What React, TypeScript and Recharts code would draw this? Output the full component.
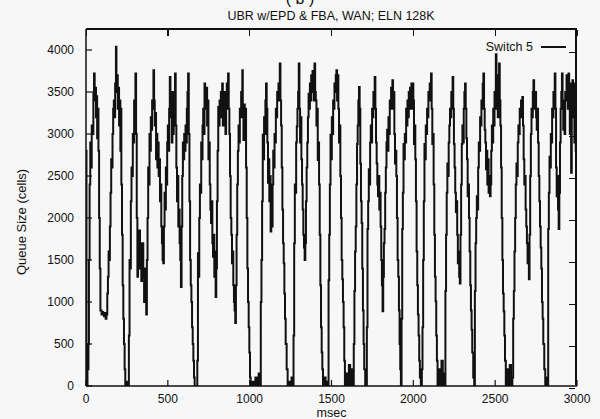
import React from 'react';
import { LineChart, Line, XAxis, YAxis, Legend } from 'recharts';

// Queue size trace of Switch 5: [msec, cells]
const seg01: [number, number][] = [[0,2800],[3,300],[6,0],[9,400],[12,200],[15,500],[18,1500],[22,2400],[26,2900],[30,2600],[35,3100],[40,3000],[45,3500],[49,3720],[53,3400],[57,3550],[61,3200],[65,3450],[68,2950],[72,3300],[76,2800],[80,2000],[84,1400],[88,900],[95,850],[100,880],[105,850],[110,830],[115,870],[120,800],[125,850],[130,1100],[134,1300],[138,1600],[142,1500],[146,1900],[150,2300],[154,2700],[158,2600],[162,3000],[166,3300],[170,3400],[174,3200],[178,3600],[183,4040],[186,3500],[190,3700],[194,3300],[198,3550],[202,3100],[206,3400],[210,2800],[213,3300],[216,2400],[220,1800],[224,1200],[228,800],[232,500],[236,200],[240,0],[245,50],[250,0]];
const seg02: [number, number][] = [[254,0],[258,0],[262,600],[266,1500],[270,1400],[274,2200],[278,2600],[282,2500],[286,3000],[290,2900],[294,3400],[298,3300],[302,3720],[306,3000],[310,2000],[314,1300],[318,1600],[322,1500],[326,1850],[330,1400],[334,1700],[338,1250],[342,1500],[346,1700],[350,1300],[355,1000],[360,1400],[364,1100],[368,850],[372,1500],[376,2000],[380,2600],[384,2400],[388,3000],[392,2800],[396,3200],[400,3050],[404,3400],[408,3300],[412,3760],[416,3400],[420,3100],[424,3250],[428,2700],[432,3000],[436,2600],[440,2900],[444,2500],[448,2700],[452,2200],[456,2400],[460,1900],[464,1700],[468,1500]];
const seg03: [number, number][] = [[472,1460],[476,1900],[480,2300],[484,2100],[488,2600],[492,2400],[496,2900],[500,3100],[504,2800],[508,3300],[512,3680],[516,3200],[520,3500],[524,2900],[528,3300],[532,3000],[536,3500],[540,3400],[544,3720],[548,3100],[552,2600],[556,2200],[560,2500],[564,1900],[568,2100],[572,1700],[576,1500],[580,1180],[584,1900],[588,2500],[592,2900],[596,2700],[600,3000],[604,2800],[608,3100],[612,2900],[616,3300],[620,3500],[624,3720],[628,3000],[632,2200],[636,1500],[640,1200],[644,1000],[648,700],[652,500],[656,300],[660,100],[664,0],[670,0],[676,0]];
const seg04: [number, number][] = [[680,300],[684,1580],[688,1300],[692,2000],[696,2400],[700,2300],[704,2900],[708,2700],[712,3100],[716,3300],[720,3000],[724,3600],[728,3500],[732,3300],[736,3550],[740,3100],[744,3400],[748,2700],[752,2900],[756,2400],[760,2100],[764,1940],[768,2200],[772,1700],[776,1540],[780,1800],[784,1300],[788,1600],[792,1060],[796,1400],[800,2200],[804,2800],[808,3320],[812,3100],[816,3400],[820,3200],[824,3500],[828,3300],[832,3600],[836,3100],[840,3400],[844,3200],[848,3500],[852,3000],[856,3400],[860,3600],[864,3300],[868,3720],[872,3300],[876,3000],[880,2500],[884,2000],[888,1800],[892,1460],[896,1600],[900,1200],[904,1000],[908,900],[912,750],[916,1200]];
const seg05: [number, number][] = [[920,1800],[924,2400],[928,2800],[932,3100],[936,2900],[940,3300],[944,3200],[948,3500],[952,3400],[955,3760],[958,3200],[962,2930],[966,3350],[970,3100],[974,3300],[978,2600],[982,2000],[986,1400],[990,1000],[994,700],[998,400],[1002,100],[1006,0],[1015,50],[1025,0],[1035,100],[1045,0],[1055,150],[1062,0]];
const seg06: [number, number][] = [[1068,1000],[1072,1500],[1076,2200],[1080,2990],[1084,2700],[1088,3200],[1092,3000],[1096,3400],[1100,3600],[1104,3300],[1108,2900],[1112,2420],[1116,2700],[1120,2200],[1124,2500],[1128,1840],[1132,2100],[1136,1900],[1140,2400],[1144,2800],[1148,2600],[1152,3000],[1156,2900],[1160,3300],[1164,3200],[1168,3500],[1172,3400],[1176,3600],[1180,3500],[1184,3840],[1188,3400],[1192,3100],[1196,2600],[1200,2100],[1204,1700],[1208,1460],[1212,1100],[1216,800],[1220,500],[1226,200],[1232,0],[1240,50],[1248,0],[1256,100],[1264,0]];
const seg07: [number, number][] = [[1268,600],[1272,1700],[1276,2400],[1280,2300],[1284,2900],[1288,3090],[1292,3300],[1296,3500],[1300,3840],[1304,3300],[1308,2900],[1312,3200],[1316,2700],[1320,2400],[1324,2100],[1328,1800],[1332,1650],[1336,1500],[1340,1700],[1344,2200],[1348,2600],[1352,2900],[1356,3200],[1360,3480],[1364,3300],[1368,3600],[1372,3400],[1376,3700],[1380,3500],[1384,3750],[1388,3600],[1392,3400],[1396,3840],[1400,3500],[1404,3400],[1408,3100],[1412,3300],[1416,2690],[1420,2900],[1424,2400],[1428,1800],[1432,1200],[1436,700],[1440,400],[1444,200],[1448,0],[1456,100],[1464,0],[1472,50],[1478,0]];
const seg08: [number, number][] = [[1482,1260],[1486,1800],[1490,2400],[1494,2990],[1498,2700],[1502,3200],[1506,3000],[1510,3400],[1514,3300],[1518,3600],[1522,3500],[1526,3700],[1530,3760],[1534,3400],[1538,3700],[1542,3300],[1546,2900],[1550,3100],[1554,2500],[1558,2000],[1562,1500],[1566,1270],[1570,1000],[1574,700],[1578,300],[1582,0],[1590,150],[1598,0],[1606,250],[1614,0],[1622,200],[1630,0]];
const seg09: [number, number][] = [[1636,500],[1640,1130],[1644,1600],[1648,1900],[1652,2400],[1656,2880],[1660,3100],[1664,3400],[1668,3560],[1672,3300],[1676,2650],[1680,2200],[1684,1940],[1688,1400],[1692,900],[1696,500],[1700,200],[1706,0],[1712,0]];
const seg10: [number, number][] = [[1716,700],[1720,1870],[1724,2200],[1728,2580],[1732,2400],[1736,2900],[1740,3100],[1744,2900],[1748,3300],[1752,3200],[1756,3500],[1760,3400],[1764,3680],[1768,3300],[1772,2900],[1776,2650],[1780,2400],[1784,2260],[1788,2500],[1792,2100],[1796,2300],[1800,1900],[1804,1500],[1808,1200],[1812,890],[1816,1300]];
const seg11: [number, number][] = [[1820,1700],[1824,1870],[1828,2300],[1832,2600],[1836,2900],[1840,3050],[1844,2800],[1848,3200],[1852,3000],[1856,3400],[1860,3300],[1864,3550],[1868,3400],[1872,3640],[1876,3300],[1880,3500],[1884,3000],[1888,2650],[1892,2800],[1896,2500],[1900,2000],[1904,1500],[1908,1300],[1912,900],[1916,500],[1920,200],[1924,0]];
const seg12: [number, number][] = [[1928,800],[1932,1870],[1936,2300],[1940,2880],[1944,2700],[1948,3000],[1952,2900],[1956,3300],[1960,3100],[1964,3400],[1968,3200],[1972,3500],[1976,3300],[1980,3550],[1984,3400],[1988,3600],[1992,3300],[1996,3600],[2000,3400],[2004,2880],[2008,3100],[2012,2700],[2016,2200],[2020,1600],[2024,1200],[2028,850],[2032,600],[2036,300],[2040,100],[2046,0]];
const seg13: [number, number][] = [[2052,200],[2056,700],[2060,1500],[2064,2200],[2068,2880],[2072,2700],[2076,3100],[2080,3000],[2084,3300],[2088,3200],[2092,3500],[2096,3400],[2100,3600],[2104,3500],[2108,3720],[2112,3300],[2116,2880],[2120,3000],[2124,2400],[2128,1800],[2132,1300],[2136,1010],[2140,600],[2144,300],[2148,0],[2156,200],[2164,0],[2172,300],[2180,0],[2188,150],[2194,0]];
const seg14: [number, number][] = [[2196,1130],[2200,1800],[2204,2300],[2208,2650],[2212,2500],[2216,2900],[2220,3100],[2224,3300],[2228,3200],[2232,3500],[2236,3400],[2240,3680],[2244,3300],[2248,2880],[2252,2600],[2256,2300],[2260,2070],[2264,2200],[2268,1800],[2272,1460],[2276,1600],[2280,1300],[2284,1220],[2288,1800]];
const seg15: [number, number][] = [[2292,2400],[2296,2880],[2300,3100],[2304,2900],[2308,3300],[2312,3500],[2316,3600],[2320,3300],[2324,2950],[2328,2700],[2332,2260],[2336,2400],[2340,2000],[2344,1600],[2348,1200],[2352,900],[2356,670],[2360,400],[2366,100],[2372,0]];
const seg16: [number, number][] = [[2376,1130],[2380,1700],[2384,2000],[2388,2260],[2392,2100],[2396,2600],[2400,2900],[2404,2800],[2408,3200],[2412,3100],[2416,3400],[2420,3300],[2424,3600],[2428,3720],[2432,3300],[2436,3050],[2440,2900],[2444,2580],[2448,2800],[2452,2400],[2456,2700],[2460,2300],[2464,2500],[2468,2260],[2472,2400],[2476,2800],[2480,3100],[2484,2900],[2488,3300],[2492,3100],[2496,3500],[2500,3300],[2504,3950],[2508,3300],[2512,3550],[2516,3200],[2520,3700],[2524,3840],[2528,3400],[2532,3100],[2536,2600],[2540,2000],[2544,1500],[2548,1100],[2552,890],[2556,600],[2560,300],[2565,0],[2573,200],[2581,0],[2589,250],[2597,0],[2605,100]];
const seg17: [number, number][] = [[2610,800],[2614,1130],[2618,1600],[2622,2000],[2626,2400],[2630,2650],[2634,2500],[2638,2900],[2642,3100],[2646,3000],[2650,3300],[2654,3200],[2658,3400],[2662,3300],[2666,3440],[2670,3100],[2674,2700],[2678,2400],[2682,2500],[2686,2100],[2690,1900],[2694,1700],[2698,1460],[2702,1600],[2706,1270],[2710,1800],[2714,2500],[2718,3000],[2722,3300],[2726,3200],[2730,3500],[2734,3640],[2738,3400],[2742,3300],[2746,3500],[2750,3200],[2754,3050],[2758,3300],[2762,2900],[2766,2500],[2770,2200],[2774,1900],[2778,1650],[2782,1400],[2786,1000],[2790,800],[2794,500],[2800,200],[2806,0],[2814,100],[2820,0]];
const seg18: [number, number][] = [[2824,1870],[2828,2300],[2832,2730],[2836,2600],[2840,3000],[2844,2900],[2848,3300],[2852,3200],[2856,3500],[2860,3400],[2864,3720],[2868,3300],[2872,2600],[2876,2260],[2880,2500],[2884,2100],[2888,1870],[2892,2300],[2896,2900],[2900,3300],[2904,3500],[2908,3720],[2912,3400],[2916,3050],[2920,3300],[2924,3000],[2928,3500],[2932,3400],[2936,3700],[2940,3600],[2944,3300],[2948,3720],[2952,3500],[2956,3000],[2960,3600],[2964,2540],[2968,3300],[2972,3640],[2976,3200],[2980,3500],[2984,2900],[2988,3600],[2992,2800],[2996,3300],[3000,2600]];

const xTicks = [0, 500, 1000, 1500, 2000, 2500, 3000];
const yTicks = [0, 500, 1000, 1500, 2000, 2500, 3000, 3500, 4000];
const xDomain: [number, number] = [0, 3000];
const yDomain: [number, number] = [0, 4250];
const seriesName = 'Switch 5';
const titleText = 'UBR w/EPD & FBA, WAN; ELN 128K';
const panelText = '( b )';
const xLabel = 'msec';
const yLabel = 'Queue Size (cells)';

const segments = [seg01, seg02, seg03, seg04, seg05, seg06, seg07, seg08, seg09, seg10, seg11, seg12, seg13, seg14, seg15, seg16, seg17, seg18];
const data = segments.flat().map(([t, q]) => ({ t, q }));

const FONT = '"Liberation Sans", Arial, Helvetica, sans-serif';
const INK = '#111';

// chart layout (the top / right edges of the frame follow it)
const W = 600;
const H = 419;
const MARGIN = { top: 29, right: 23, bottom: 0, left: 0 };
const Y_AXIS_W = 86;
const X_AXIS_H = 33;
const TICK = 6;
const plotL = MARGIN.left + Y_AXIS_W;
const plotT = MARGIN.top;
const plotR = W - MARGIN.right;
const plotB = H - MARGIN.bottom - X_AXIS_H;
const plotW = plotR - plotL;
const plotH = plotB - plotT;
const fx = (v: number) => ((v - xDomain[0]) / (xDomain[1] - xDomain[0])) * plotW;
const fy = (v: number) => plotH - ((v - yDomain[0]) / (yDomain[1] - yDomain[0])) * plotH;

const renderLegend = (props: any) => {
  const items = props.payload || [];
  return (
    <div style={{ display: 'flex', flexDirection: 'column', alignItems: 'flex-end' }}>
      {items.map((it: any) => (
        <div key={it.value} style={{ display: 'flex', alignItems: 'center', fontFamily: FONT, fontSize: 12.5, color: INK, lineHeight: '14px' }}>
          <span>{it.value}</span>
          <svg width={25} height={6} style={{ marginLeft: 8 }}>
            <line x1={0} y1={3} x2={25} y2={3} stroke={INK} strokeWidth={2} />
          </svg>
        </div>
      ))}
    </div>
  );
};

export default function App() {
  return (
    <div style={{ position: 'absolute', left: 0, top: 0, width: W, height: H, background: '#f7f7f7', overflow: 'hidden' }}>
      <LineChart width={W} height={H} data={data} margin={MARGIN}>
        <XAxis
          dataKey="t"
          type="number"
          domain={xDomain}
          ticks={xTicks}
          allowDataOverflow
          height={X_AXIS_H}
          tickSize={-TICK}
          tickMargin={14}
          axisLine={{ stroke: INK, strokeWidth: 1.5 }}
          tickLine={{ stroke: INK, strokeWidth: 1.2 }}
          tick={{ fill: INK, fontSize: 12, fontFamily: FONT }}
          label={{ value: xLabel, position: 'insideBottom', offset: 2, fill: INK, fontSize: 12.5, fontFamily: FONT }}
        />
        <YAxis
          type="number"
          domain={yDomain}
          ticks={yTicks}
          allowDataOverflow
          width={Y_AXIS_W}
          tickSize={-TICK}
          tickMargin={18}
          axisLine={{ stroke: INK, strokeWidth: 1.5 }}
          tickLine={{ stroke: INK, strokeWidth: 1.2 }}
          tick={{ fill: INK, fontSize: 12, fontFamily: FONT }}
        />
        <Legend
          layout="vertical"
          verticalAlign="middle"
          align="center"
          content={renderLegend}
          wrapperStyle={{ top: 40, right: 34, left: 'auto', width: 'auto' }}
        />
        <Line
          name={seriesName}
          dataKey="q"
          type="stepAfter"
          stroke={INK}
          strokeWidth={2}
          dot={false}
          isAnimationActive={false}
        />
      </LineChart>
      <div
        style={{
          position: 'absolute',
          left: plotL,
          top: plotT - 1,
          width: plotW,
          height: plotH,
          borderTop: `2px solid ${INK}`,
          borderRight: `2px solid ${INK}`,
          boxSizing: 'border-box',
          pointerEvents: 'none',
        }}
      >
        {xTicks.map((v) => (
          <div key={'tx' + v} style={{ position: 'absolute', left: fx(v) - 0.5, top: 0, width: 1.2, height: TICK, background: INK }} />
        ))}
        {yTicks.map((v) => (
          <div key={'ty' + v} style={{ position: 'absolute', right: 0, top: fy(v) + 0.5, width: TICK, height: 1.2, background: INK }} />
        ))}
      </div>
      <svg width={W} height={H} style={{ position: 'absolute', left: 0, top: 0, pointerEvents: 'none' }}>
        <text x={300} y={4} textAnchor="middle" fontSize={16} fontFamily={FONT} fill={INK}>{panelText}</text>
        <text x={331} y={20} textAnchor="middle" fontSize={12.5} fontFamily={FONT} fill={INK}>{titleText}</text>
        <text x={26} y={222} textAnchor="middle" fontSize={13} fontFamily={FONT} fill={INK} transform="rotate(-90 26 222)">{yLabel}</text>
      </svg>
    </div>
  );
}
